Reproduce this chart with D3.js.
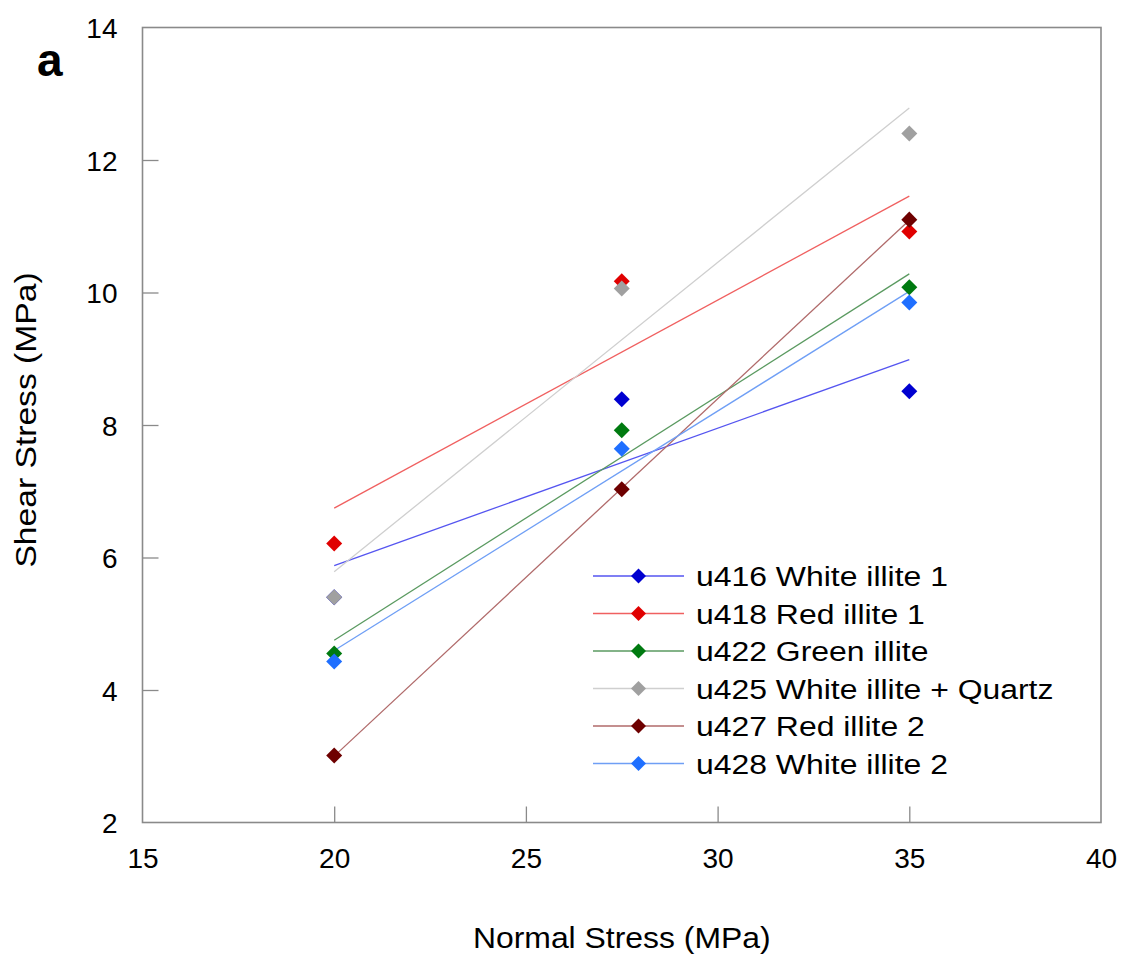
<!DOCTYPE html>
<html>
<head>
<meta charset="utf-8">
<script src="https://cdn.jsdelivr.net/npm/d3@7"></script>
<style>
  html, body { margin: 0; padding: 0; background: #fff; }
  svg { display: block; font-family: "Liberation Sans", Arial, sans-serif; }
</style>
</head>
<body>
<svg id="chart" width="1122" height="957"></svg>
<script>
// Normal stress levels (MPa) at which each sample was sheared
const normalStress = [20, 27.5, 35];

// Sample names shown in the legend
const sampleNames = [
  "u416 White illite 1",
  "u418 Red illite 1",
  "u422 Green illite",
  "u425 White illite + Quartz",
  "u427 Red illite 2",
  "u428 White illite 2"
];

// Shear stress (MPa) per sample, one value per normal stress level
const u416 = [5.40, 8.39, 8.51];
const u418 = [6.21, 10.17, 10.92];
const u422 = [4.55, 7.92, 10.08];
const u425 = [5.40, 10.06, 12.40];
const u427 = [3.01, 7.03, 11.10];
const u428 = [4.43, 7.64, 9.85];

const markerColors = ["#0000d0", "#e00000", "#007a10", "#a0a0a0", "#6e0000", "#1f6fff"];
const lineColors   = ["#5555f0", "#f06060", "#5a9a60", "#cfcfcf", "#b06a6a", "#6f9ff5"];

const xTicks = [15, 20, 25, 30, 35, 40];
const yTicks = [2, 4, 6, 8, 10, 12, 14];

const series = [u416, u418, u422, u425, u427, u428].map((vals, i) => ({
  name: sampleNames[i],
  values: vals,
  marker: markerColors[i],
  line: lineColors[i]
}));

const svg = d3.select("#chart");
const plot = { left: 142.5, right: 1101, top: 27.5, bottom: 822.5 };

const x = d3.scaleLinear().domain([15, 40]).range([plot.left, plot.right]);
const y = d3.scaleLinear().domain([2, 14]).range([plot.bottom, plot.top]);

// Least-squares fit of shear stress against normal stress
function linearFit(xs, ys) {
  const mx = d3.mean(xs), my = d3.mean(ys);
  const sxy = d3.sum(xs, (v, i) => (v - mx) * (ys[i] - my));
  const sxx = d3.sum(xs, v => (v - mx) * (v - mx));
  const slope = sxy / sxx;
  return v => my + slope * (v - mx);
}

const frameColor = "#8a8a8a";
const tickLen = 16;

// Axes with inward ticks
const xAxis = svg.append("g")
  .attr("transform", `translate(0,${plot.bottom})`)
  .call(d3.axisBottom(x).tickValues(xTicks).tickSize(-tickLen).tickPadding(26).tickFormat(d3.format("d")));
const yAxis = svg.append("g")
  .attr("transform", `translate(${plot.left},0)`)
  .call(d3.axisLeft(y).tickValues(yTicks).tickSize(-tickLen).tickPadding(25).tickFormat(d3.format("d")));

[xAxis, yAxis].forEach(g => {
  g.select(".domain").remove();
  g.selectAll(".tick line").attr("stroke", frameColor).attr("stroke-width", 1.3);
  g.selectAll(".tick text").attr("fill", "#000").style("font-size", "28px")
    .style("font-family", "'Liberation Sans', Arial, sans-serif");
});
// edge ticks coincide with the frame
xAxis.selectAll(".tick").filter(d => d === 15 || d === 40).select("line").remove();
yAxis.selectAll(".tick").filter(d => d === 2 || d === 14).select("line").remove();
yAxis.selectAll(".tick text").attr("dy", "0.36em");

// Plot frame
svg.append("rect")
  .attr("x", plot.left).attr("y", plot.top)
  .attr("width", plot.right - plot.left).attr("height", plot.bottom - plot.top)
  .attr("fill", "none").attr("stroke", frameColor).attr("stroke-width", 1.6);

// Fit lines spanning the tested range
const fitG = svg.append("g");
series.forEach(s => {
  const f = linearFit(normalStress, s.values);
  const x0 = d3.min(normalStress), x1 = d3.max(normalStress);
  fitG.append("line")
    .attr("x1", x(x0)).attr("y1", y(f(x0)))
    .attr("x2", x(x1)).attr("y2", y(f(x1)))
    .attr("stroke", s.line).attr("stroke-width", 1.3);
});

// Diamond markers
const diamond = d3.symbol().type(d3.symbolSquare).size(128);
const markG = svg.append("g");
series.forEach(s => {
  markG.selectAll(null)
    .data(normalStress.map((n, i) => [n, s.values[i]]))
    .enter().append("path")
    .attr("d", diamond)
    .attr("transform", d => `translate(${x(d[0])},${y(d[1])}) rotate(45)`)
    .attr("fill", s.marker);
});

// Legend (text drawn in a slightly wide face)
const legend = svg.append("g").attr("transform", "translate(593,576)");
series.forEach((s, i) => {
  const row = legend.append("g").attr("transform", `translate(0,${i * 37.5})`);
  row.append("line").attr("x1", 0).attr("x2", 91).attr("y1", 0).attr("y2", 0)
    .attr("stroke", s.line).attr("stroke-width", 1.3);
  row.append("path").attr("d", d3.symbol().type(d3.symbolSquare).size(112))
    .attr("transform", "translate(45.5,0) rotate(45)").attr("fill", s.marker);
  row.append("text").attr("transform", "translate(103,0) scale(1.14,1)")
    .attr("dy", "0.36em")
    .style("font-size", "28px").attr("fill", "#000").text(s.name);
});

// Axis titles
svg.append("text")
  .attr("transform", `translate(${(plot.left + plot.right) / 2},948) scale(1.1,1)`)
  .attr("text-anchor", "middle").style("font-size", "29px").text("Normal Stress (MPa)");
svg.append("text")
  .attr("transform", `translate(36,${(plot.top + plot.bottom) / 2 - 5}) rotate(-90) scale(1.16,1)`)
  .attr("text-anchor", "middle").style("font-size", "29px").text("Shear Stress (MPa)");

// Panel letter
svg.append("text").attr("x", 37).attr("y", 76)
  .style("font-size", "46px").style("font-weight", "bold").text("a");
</script>
</body>
</html>
